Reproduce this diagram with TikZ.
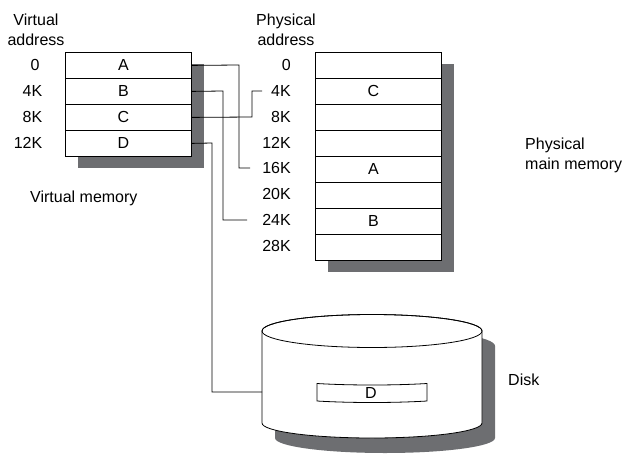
\documentclass[tikz,border=0pt]{standalone}
\usepackage{fontspec}
\setmainfont{Liberation Sans}
\definecolor{shadowgray}{HTML}{6D6E71}
\begin{document}
\begin{tikzpicture}[x=1pt,y=-1pt,
  font=\fontsize{16}{20}\selectfont,
  cell/.style={draw, line width=0.8pt, minimum width=126pt, minimum height=26pt,
    inner sep=0pt, fill=white, anchor=north west,
    execute at begin node=\hspace*{-10pt}},
  link/.style={line width=0.8pt},
  lab/.style={anchor=east, inner sep=0pt},
  txt/.style={inner sep=0pt, align=left, anchor=west}]
\useasboundingbox (0,0) rectangle (636,460);

% ---- virtual memory ----
\fill[shadowgray] (78,64) rectangle (204,168);
\node[cell] (v0) at (65,52) {A};
\node[cell] (v1) at (65,78) {B};
\node[cell] (v2) at (65,104) {C};
\node[cell] (v3) at (65,130) {D};

\node[inner sep=0pt, align=center] (vaddr) at (36,30) {Virtual\\address};
\node[inner sep=0pt] (va0) at (35,65) {0};
\node[lab] (va1) at (42.5,91) {4K};
\node[lab] (va2) at (42.5,117) {8K};
\node[lab] (va3) at (42.5,143) {12K};
\node[txt] (vmem) at (30,198) {Virtual memory};

% ---- physical memory ----
\fill[shadowgray] (328,64) rectangle (454,272);
\node[cell] (p0) at (315,52) {};
\node[cell] (p1) at (315,78) {C};
\node[cell] (p2) at (315,104) {};
\node[cell] (p3) at (315,130) {};
\node[cell] (p4) at (315,156) {A};
\node[cell] (p5) at (315,182) {};
\node[cell] (p6) at (315,208) {B};
\node[cell] (p7) at (315,234) {};

\node[inner sep=0pt, align=center] (paddr) at (286,30) {Physical\\address};
\node[lab] (pa0) at (291,65) {0};
\node[lab] (pa1) at (291,91) {4K};
\node[lab] (pa2) at (291,117) {8K};
\node[lab] (pa3) at (291,143) {12K};
\node[lab] (pa4) at (291,168) {16K};
\node[lab] (pa5) at (291,194) {20K};
\node[lab] (pa6) at (291,220) {24K};
\node[lab] (pa7) at (291,246) {28K};
\node[txt] (pmem) at (525,155) {Physical\\main memory};

% ---- disk ----
\fill[shadowgray] (275,346) -- (275,438)
  arc[start angle=180, end angle=0, x radius=110, y radius=15]
  -- (495,346)
  arc[start angle=0, end angle=-180, x radius=110, y radius=16.5] -- cycle;
\draw[line width=0.8pt, fill=white] (262,331) -- (262,423)
  arc[start angle=180, end angle=0, x radius=110, y radius=15]
  -- (482,331)
  arc[start angle=0, end angle=-180, x radius=110, y radius=16.5] -- cycle;
\draw[line width=0.8pt] (372,331) ellipse[x radius=110, y radius=16.5];
\draw[line width=0.8pt] (317,383.5) .. controls (350,385.5) and (394,385.5) .. (427,383.5)
  -- (427,401) .. controls (394,403) and (350,403) .. (317,401) -- cycle;
\node[inner sep=0pt] (dD) at (371,393) {D};
\node[txt] (disk) at (508,380) {Disk};
\coordinate (diskL) at (262,392);

% ---- connectors ----
\coordinate (eA) at (250,168);
\coordinate (eB) at (247,220);
\coordinate (eC) at (262,91);
\draw[link] (v0.east) -- (239,65) |- (eA);
\draw[link] (v1.east) -- (223,91) |- (eB);
\draw[link] (v2.east) -- (252,117) |- (eC);
\draw[link] (v3.east) -- (212,143) |- (diskL);
\end{tikzpicture}
\end{document}
